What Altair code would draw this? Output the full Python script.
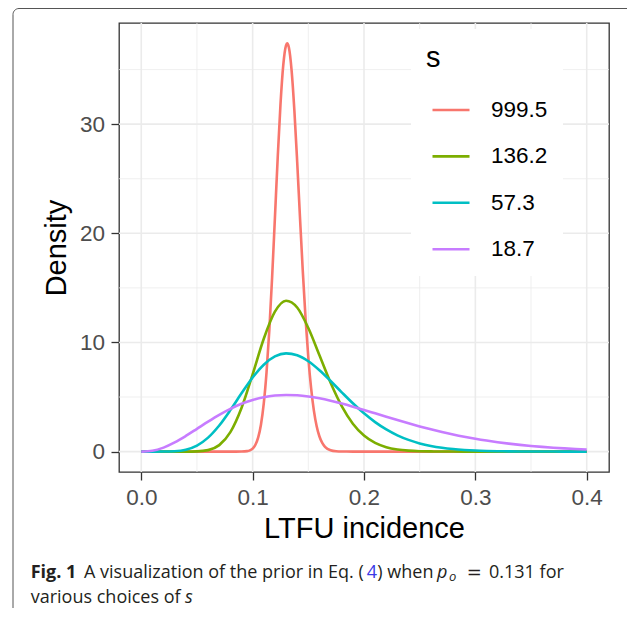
import altair as alt
import pandas as pd

# ---------------- data ----------------
s_labels = ["999.5", "136.2", "57.3", "18.7"]
s_colors = ["#F8766D", "#7CAE00", "#00BFC4", "#C77CFF"]

x_grid = [0.00, 0.01, 0.02, 0.03, 0.04, 0.05, 0.06, 0.07, 0.08, 0.09,
          0.10, 0.11, 0.12, 0.13, 0.14, 0.15, 0.16, 0.17, 0.18, 0.19,
          0.20, 0.21, 0.22, 0.23, 0.24, 0.25, 0.26, 0.27, 0.28, 0.29,
          0.30, 0.31, 0.32, 0.33, 0.34, 0.35, 0.36, 0.37, 0.38, 0.39, 0.40]

y_136 = [0, 0, 0, 0, 0.0012, 0.018, 0.134, 0.592, 1.782, 3.997,
         7.082, 10.337, 12.817, 13.82, 13.199, 11.323, 8.826, 6.308, 4.166, 2.558,
         1.469, 0.792, 0.402, 0.193, 0.088, 0.038, 0.016, 0.006, 0.002, 0.001,
         0, 0, 0, 0, 0, 0, 0, 0, 0, 0, 0]

y_57 = [0, 0, 0.003, 0.034, 0.174, 0.551, 1.280, 2.390, 3.800, 5.339,
        6.791, 7.962, 8.717, 8.998, 8.825, 8.274, 7.450, 6.468, 5.433, 4.425,
        3.503, 2.701, 2.031, 1.492, 1.071, 0.752, 0.518, 0.349, 0.231, 0.150,
        0.095, 0.060, 0.037, 0.022, 0.013, 0.008, 0.004, 0.002, 0.001, 0.001, 0.0]

y_18 = [0, 0.079, 0.366, 0.838, 1.432, 2.086, 2.746, 3.367, 3.917, 4.377,
        4.734, 4.987, 5.136, 5.190, 5.157, 5.049, 4.880, 4.660, 4.402, 4.117,
        3.815, 3.504, 3.193, 2.887, 2.591, 2.309, 2.043, 1.797, 1.570, 1.363,
        1.176, 1.009, 0.860, 0.729, 0.614, 0.515, 0.429, 0.355, 0.292, 0.239, 0.194]

x_999 = [0.0, 0.05, 0.08, 0.085, 0.09, 0.095, 0.0975, 0.1, 0.1025, 0.105,
         0.1075, 0.11, 0.1125, 0.115, 0.1175, 0.12, 0.1225, 0.125, 0.1275, 0.13,
         0.131, 0.1325, 0.135, 0.1375, 0.14, 0.1425, 0.145, 0.1475, 0.15, 0.1525,
         0.155, 0.1575, 0.16, 0.1625, 0.165, 0.17, 0.175, 0.18, 0.19, 0.25,
         0.30, 0.35, 0.40]
y_999 = [0, 0, 0, 0.0003, 0.004, 0.041, 0.111, 0.275, 0.624, 1.297,
         2.489, 4.414, 7.273, 11.157, 15.974, 21.40, 26.90, 31.80, 35.41, 37.23,
         37.40, 37.04, 34.91, 31.22, 26.56, 21.50, 16.60, 12.23, 8.62, 5.81,
         3.755, 2.327, 1.385, 0.792, 0.436, 0.118, 0.0275, 0.0056, 0.0002, 0,
         0, 0, 0]

x_ticks = [0.0, 0.1, 0.2, 0.3, 0.4]
x_minor = [0.05, 0.15, 0.25, 0.35]
y_ticks = [0, 10, 20, 30]
y_minor = [5, 15, 25, 35]

caption_line1 = ["Fig. 1", "A visualization of the prior in Eq. (", "4", ") when",
                 "p", "o", "=", "0.131 for"]
caption_line2 = ["various choices of", "s"]

# ---------------- build table ----------------
rows = []
for lab, xv_list, yv_list in [("999.5", x_999, y_999), ("136.2", x_grid, y_136),
                              ("57.3", x_grid, y_57), ("18.7", x_grid, y_18)]:
    for xv, yv in zip(xv_list, yv_list):
        rows.append({"x": xv, "y": yv, "s": lab})
df = pd.DataFrame(rows)

XD = [-0.02, 0.42]
YD = [-1.87, 39.27]
FONT = "Liberation Sans"
xs = alt.Scale(domain=XD, nice=False, zero=False)
ys = alt.Scale(domain=YD, nice=False, zero=False)

x_axis = alt.Axis(values=x_ticks, format=".1f", grid=False, domain=False,
                  tickSize=8, tickColor="#333333", tickWidth=1.3,
                  labelFont=FONT, labelFontSize=22.5, labelColor="#4D4D4D",
                  labelPadding=6.5, title="LTFU incidence", titleFont=FONT,
                  titleFontSize=29, titleFontWeight="normal",
                  titleColor="black", titlePadding=5)
y_axis = alt.Axis(values=y_ticks, grid=False, domain=False,
                  tickSize=8, tickColor="#333333", tickWidth=1.3,
                  labelFont=FONT, labelFontSize=22.5, labelColor="#4D4D4D",
                  labelPadding=6.5, title="Density", titleFont=FONT,
                  titleFontSize=29, titleFontWeight="normal",
                  titleColor="black", titlePadding=8)

# grid lines
gx_major = alt.Chart(pd.DataFrame({"x": x_ticks})).mark_rule(
    color="#EBEBEB", strokeWidth=1.6).encode(x=alt.X("x:Q", scale=xs, axis=x_axis))
gx_minor = alt.Chart(pd.DataFrame({"x": x_minor})).mark_rule(
    color="#EBEBEB", strokeWidth=0.8).encode(x=alt.X("x:Q", scale=xs, axis=x_axis))
gy_major = alt.Chart(pd.DataFrame({"y": y_ticks})).mark_rule(
    color="#EBEBEB", strokeWidth=1.6).encode(y=alt.Y("y:Q", scale=ys, axis=y_axis))
gy_minor = alt.Chart(pd.DataFrame({"y": y_minor})).mark_rule(
    color="#EBEBEB", strokeWidth=0.8).encode(y=alt.Y("y:Q", scale=ys, axis=y_axis))

lines = alt.Chart(df).mark_line(strokeWidth=2.6, interpolate="monotone").encode(
    x=alt.X("x:Q", scale=xs, axis=x_axis),
    y=alt.Y("y:Q", scale=ys, axis=y_axis),
    color=alt.Color("s:N", sort=s_labels,
                    scale=alt.Scale(domain=s_labels, range=s_colors),
                    legend=alt.Legend(orient="none", legendX=292, legendY=6,
                                      title="s", titleFont=FONT, titleFontSize=29,
                                      titleFontWeight="normal", titleColor="black",
                                      titlePadding=17, labelFont=FONT,
                                      labelFontSize=22.5, labelColor="black",
                                      labelOffset=20, symbolType="stroke",
                                      symbolSize=1369, symbolStrokeWidth=2.6,
                                      symbolOffset=5, rowPadding=14.4,
                                      padding=15, fillColor="white")),
)

# figure frame
frame = alt.Chart(pd.DataFrame({"k": [0]})).mark_rect(
    fillOpacity=0, stroke="#555555", strokeWidth=1, cornerRadius=6).encode(
    x=alt.value(-106), x2=alt.value(530), y=alt.value(-14.5), y2=alt.value(700))

CAP_FONT = "Open Sans"
CAP_COL = "#231F20"
Y1 = 554.5
Y2 = 579.5
CS = 18
cap_pos1 = [(-88.3, Y1, CS, "bold", "normal", CAP_COL, CAP_FONT),
            (-35, Y1, CS, "normal", "normal", CAP_COL, CAP_FONT),
            (247.7, Y1, CS, "normal", "normal", "#3A3AE6", CAP_FONT),
            (258.3, Y1, CS, "normal", "normal", CAP_COL, CAP_FONT),
            (318, Y1, CS, "normal", "italic", CAP_COL, CAP_FONT),
            (330, Y1 + 3.5, 13, "normal", "italic", CAP_COL, CAP_FONT),
            (347.7, Y1, CS, "normal", "normal", CAP_COL, "DejaVu Sans"),
            (370, Y1, CS, "normal", "normal", CAP_COL, CAP_FONT)]
cap_pos2 = [(-88.3, Y2, CS, "normal", "normal", CAP_COL, CAP_FONT),
            (66, Y2, CS, "normal", "italic", CAP_COL, CAP_FONT)]

texts = []
for txt, (px, py, fs, fw, fst, col, fnt) in zip(caption_line1 + caption_line2,
                                                cap_pos1 + cap_pos2):
    texts.append(alt.Chart(pd.DataFrame({"t": [txt]})).mark_text(
        align="left", baseline="alphabetic", font=fnt, fontSize=fs,
        fontWeight=fw, fontStyle=fst, color=col).encode(
        x=alt.value(px), y=alt.value(py), text="t:N"))

chart = alt.layer(frame, gx_minor, gy_minor, gx_major, gy_major, lines, *texts).properties(
    width=490, height=449,
    padding={"left": 111, "top": 15, "right": 18, "bottom": 136},
    autosize=alt.AutoSizeParams(type="none"),
).configure(background="white").configure_view(stroke="#333333", strokeWidth=1.3)

chart.save("out.html", embed_options={"renderer": "svg", "actions": False})
